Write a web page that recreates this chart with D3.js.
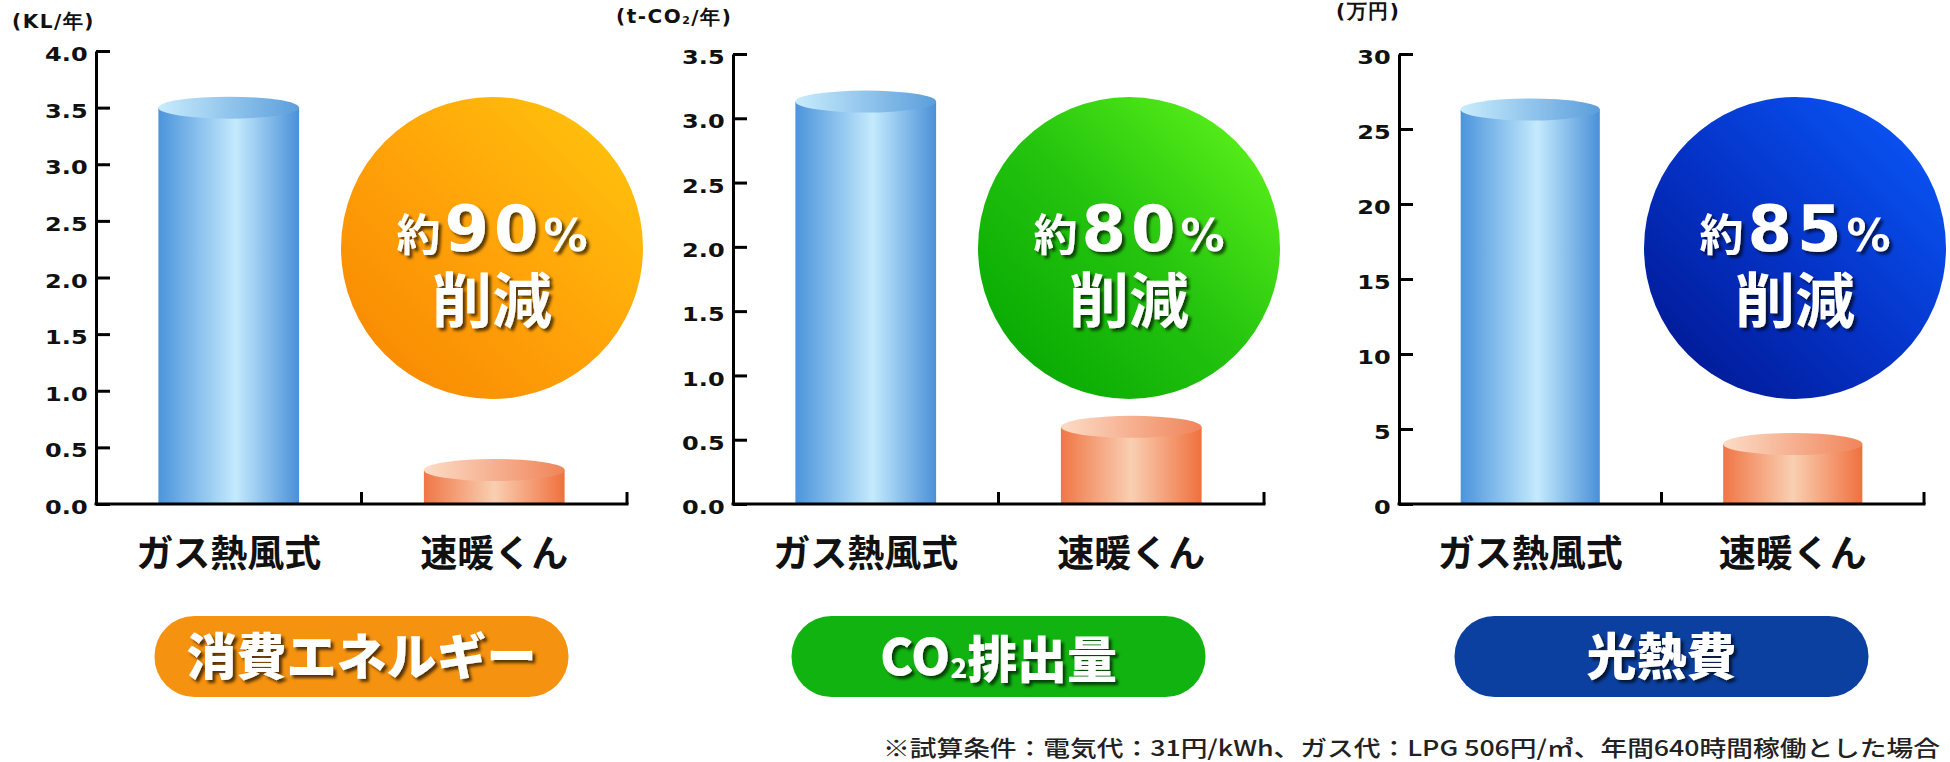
<!DOCTYPE html>
<html>
<head>
<meta charset="utf-8">
<script src="https://cdn.jsdelivr.net/npm/d3@7"></script>
<style>
	body { margin: 0; background: #fff; }
	svg { display: block; }
</style>
</head>
<body>
<script>
// values
const categories = ["ガス熱風式", "速暖くん"];
const energyValues = [3.5, 0.3];
const co2Values = [3.13, 0.6];
const costValues = [26.3, 4.0];

const energyTicks = [0, 0.5, 1, 1.5, 2, 2.5, 3, 3.5, 4];
const co2Ticks = [0, 0.5, 1, 1.5, 2, 2.5, 3, 3.5];
const costTicks = [0, 5, 10, 15, 20, 25, 30];

const unitLabels = ["(KL/年)", "(t-CO₂/年)", "(万円)"];
const reductions = ["90", "80", "85"];
const panelTitles = ["消費エネルギー", "CO₂排出量", "光熱費"];
const footnote = "※試算条件：電気代：31円/kWh、ガス代：LPG 506円/㎥、年間640時間稼働とした場合";

const svgWidth = 1950;
const svgHeight = 762;
const baseY = 504;

const svg = d3
	.select("body")
	.append("svg")
	.attr("viewBox", `0 0 ${svgWidth} ${svgHeight}`)
	.attr("width", svgWidth)
	.attr("height", svgHeight);

const jpFont = '"Noto Sans CJK JP", "Noto Sans", sans-serif';
const numFont = '"DejaVu Sans", sans-serif';

// panel layout (positions only)
const panels = [
	{ values: energyValues, ticks: energyTicks, fmt: d3.format(".1f"), x0: 96, x1: 627, top: 51, unitX: 12, unitY: 28,
		circle: ["#ffc80c", "#ffa309", "#f78400"], pill: "#f5920f" },
	{ values: co2Values, ticks: co2Ticks, fmt: d3.format(".1f"), x0: 733, x1: 1264, top: 54, unitX: 616, unitY: 23,
		circle: ["#66fa1c", "#23c30e", "#00a300"], pill: "#10b310" },
	{ values: costValues, ticks: costTicks, fmt: d3.format("d"), x0: 1399, x1: 1924, top: 54, unitX: 1336, unitY: 18,
		circle: ["#0a5cff", "#0534c9", "#00138a"], pill: "#0b40a0" },
];

const defs = svg.append("defs");

const addGradient = (id, stops, x1, y1, x2, y2) => {
	const g = defs
		.append("linearGradient")
		.attr("id", id)
		.attr("x1", x1)
		.attr("y1", y1)
		.attr("x2", x2)
		.attr("y2", y2);
	stops.forEach(([o, c]) => g.append("stop").attr("offset", o).attr("stop-color", c));
};

addGradient("blueBody", [[0, "#4b94dc"], [0.55, "#c4eafd"], [1, "#4a90d8"]], 0, 0, 1, 0);
addGradient("blueTop", [[0, "#c8ecfd"], [1, "#5b9edc"]], 0, 0, 1, 0);
addGradient("orangeBody", [[0, "#f07646"], [0.5, "#f9cfb2"], [1, "#f0703e"]], 0, 0, 1, 0);
addGradient("orangeTop", [[0, "#fcdcc6"], [1, "#f0845a"]], 0, 0, 1, 0);

panels.forEach((p, i) => {
	addGradient(`circle${i}`, [[0, p.circle[0]], [0.5, p.circle[1]], [1, p.circle[2]]], 1, 0, 0, 1);
});

const shadow = defs
	.append("filter")
	.attr("id", "shadow")
	.attr("x", "-20%")
	.attr("y", "-20%")
	.attr("width", "140%")
	.attr("height", "150%");
shadow
	.append("feDropShadow")
	.attr("dx", 3)
	.attr("dy", 3)
	.attr("stdDeviation", 1.5)
	.attr("flood-color", "#000")
	.attr("flood-opacity", 0.65);

// writes text that may hold a subscript 2 (CO₂)
const writeSub = (textSel, str, size) => {
	const parts = str.split("₂");
	parts.forEach((part, k) => {
		textSel.append("tspan").text(part);
		if (k < parts.length - 1) {
			textSel
				.append("tspan")
				.attr("font-size", size * 0.55)
				.attr("dy", size * 0.05)
				.text("2");
			textSel.append("tspan").attr("dy", -size * 0.05).text("");
		}
	});
};

const barColors = ["blue", "orange"];

panels.forEach((p, i) => {
	const layer = svg.append("g").attr("class", "panel");

	const xScale = d3
		.scaleBand()
		.domain(categories)
		.range([p.x0, p.x1])
		.paddingInner(0.47)
		.paddingOuter(0.235);

	const yScale = d3
		.scaleLinear()
		.domain([0, d3.max(p.ticks)])
		.range([baseY, p.top]);

	// unit label
	const unit = layer
		.append("text")
		.attr("x", p.unitX)
		.attr("y", p.unitY)
		.attr("font-family", numFont)
		.attr("font-weight", "bold")
		.attr("font-size", 20)
		.attr("letter-spacing", 1.5)
		.attr("fill", "#111");
	writeSub(unit, unitLabels[i], 20);

	// bars as cylinders
	const bw = xScale.bandwidth();
	const ry = 11;
	const bars = layer
		.selectAll("g.bar")
		.data(p.values)
		.join("g")
		.attr("class", "bar");

	bars
		.append("rect")
		.attr("x", (d, j) => xScale(categories[j]))
		.attr("y", (d) => yScale(d))
		.attr("width", bw)
		.attr("height", (d) => baseY - yScale(d))
		.attr("fill", (d, j) => `url(#${barColors[j]}Body)`);

	bars
		.append("ellipse")
		.attr("cx", (d, j) => xScale(categories[j]) + bw / 2)
		.attr("cy", (d) => yScale(d))
		.attr("rx", bw / 2)
		.attr("ry", ry)
		.attr("fill", (d, j) => `url(#${barColors[j]}Top)`);

	// y axis
	const yAxis = layer
		.append("g")
		.attr("transform", `translate(${p.x0} 0)`)
		.call(
			d3
				.axisLeft(yScale)
				.tickValues(p.ticks)
				.tickFormat(p.fmt)
				.tickSizeInner(-14)
				.tickSizeOuter(0)
				.tickPadding(7)
		);
	yAxis.select(".domain").attr("stroke", "#000").attr("stroke-width", 3);
	yAxis.selectAll(".tick line").attr("stroke", "#000").attr("stroke-width", 3);
	yAxis
		.selectAll(".tick text")
		.attr("font-family", numFont)
		.attr("font-weight", "bold")
		.attr("font-size", 20)
		.attr("fill", "#111")
		.attr("dy", "0.48em")
		.attr("transform", "scale(1.2,1)");

	// x axis: baseline with ticks between and at the end
	const midTick = (xScale(categories[0]) + bw + xScale(categories[1])) / 2;
	layer
		.append("line")
		.attr("x1", p.x0 - 1.5)
		.attr("x2", p.x1 + 1.5)
		.attr("y1", baseY)
		.attr("y2", baseY)
		.attr("stroke", "#000")
		.attr("stroke-width", 3);
	layer
		.selectAll("line.xtick")
		.data([midTick, p.x1])
		.join("line")
		.attr("class", "xtick")
		.attr("x1", (d) => d)
		.attr("x2", (d) => d)
		.attr("y1", baseY)
		.attr("y2", baseY - 12)
		.attr("stroke", "#000")
		.attr("stroke-width", 3);

	// category labels
	layer
		.selectAll("text.cat")
		.data(categories)
		.join("text")
		.attr("class", "cat")
		.attr("x", (d) => xScale(d) + bw / 2)
		.attr("y", 567)
		.attr("text-anchor", "middle")
		.attr("font-family", jpFont)
		.attr("font-weight", "bold")
		.attr("font-size", 37)
		.attr("fill", "#111")
		.text((d) => d);

	// reduction badge
	const cx = p.x0 + 396;
	const cy = 248;
	layer
		.append("circle")
		.attr("cx", cx)
		.attr("cy", cy)
		.attr("r", 151)
		.attr("fill", `url(#circle${i})`);

	// both lines in one text element
	const badge = layer
		.append("text")
		.attr("text-anchor", "middle")
		.attr("fill", "#fff")
		.attr("filter", "url(#shadow)");
	badge
		.append("tspan")
		.attr("x", cx)
		.attr("y", cy + 3)
		.attr("font-family", jpFont)
		.attr("font-weight", "bold")
		.attr("font-size", 44)
		.text("約");
	badge
		.append("tspan")
		.attr("font-family", numFont)
		.attr("font-weight", "bold")
		.attr("font-size", 64)
		.attr("letter-spacing", 5)
		.attr("dx", 4)
		.text(reductions[i]);
	badge
		.append("tspan")
		.attr("font-family", numFont)
		.attr("font-weight", "bold")
		.attr("font-size", 44)
		.text("%");
	badge
		.append("tspan")
		.attr("x", cx)
		.attr("y", cy + 75)
		.attr("font-family", jpFont)
		.attr("font-weight", "bold")
		.attr("font-size", 60)
		.text("削減");

	// title pill
	const pc = (p.x0 + p.x1) / 2;
	layer
		.append("rect")
		.attr("x", pc - 207)
		.attr("y", 616)
		.attr("width", 414)
		.attr("height", 81)
		.attr("rx", 40)
		.attr("fill", p.pill);

	const title = layer
		.append("text")
		.attr("x", pc)
		.attr("y", 675)
		.attr("text-anchor", "middle")
		.attr("fill", "#fff")
		.attr("filter", "url(#shadow)")
		.attr("font-family", jpFont)
		.attr("font-weight", 900)
		.attr("font-size", 50);
	writeSub(title, panelTitles[i], 50);
});

// footnote
svg
	.append("text")
	.attr("x", 1940)
	.attr("y", 756)
	.attr("text-anchor", "end")
	.attr("font-family", jpFont)
	.attr("font-weight", 500)
	.attr("font-size", 22)
	.attr("fill", "#222")
	.attr("textLength", 1057)
	.attr("lengthAdjust", "spacingAndGlyphs")
	.text(footnote);
</script>
</body>
</html>
